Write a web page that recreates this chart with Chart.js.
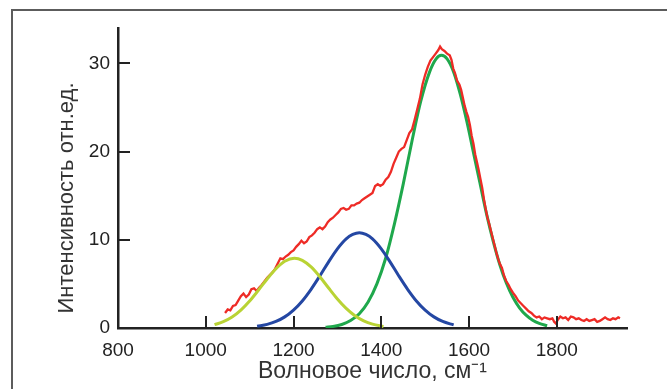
<!DOCTYPE html>
<html>
<head>
<meta charset="utf-8">
<script src="https://cdn.jsdelivr.net/npm/chart.js@4.4.1/dist/chart.umd.min.js"></script>
<style>
  html, body { margin: 0; padding: 0; background: #fff; }
  #wrap { position: relative; width: 667px; height: 389px; overflow: hidden; }
  #frame { position: absolute; left: 11px; top: 9px; width: 700px; height: 420px;
           border-left: 2px solid #5c5c5c; border-top: 2px solid #5c5c5c; }
  #c { position: absolute; left: 0; top: 0; }
</style>
</head>
<body>
<div id="wrap">
  <div id="frame"></div>
  <canvas id="c" width="667" height="389"></canvas>
</div>
<script>
// ---- data ----
const xTickLabels = [800, 1000, 1200, 1400, 1600, 1800];
const yTickLabels = [0, 10, 20, 30];
const xTitle = 'Волновое число, см\u207B\u00B9';
const yTitle = 'Интенсивность отн.ед.';

// measured spectrum (red)
const redX = [1044,1050,1056,1062,1068,1074,1080,1086,1092,1098,1104,1110,1116,1122,1128,1134,1140,1146,1152,1158,1164,1170,1176,1182,1188,1194,1200,1206,1212,1218,1224,1230,1236,1242,1248,1254,1260,1266,1272,1278,1284,1290,1296,1302,1308,1314,1320,1326,1332,1338,1344,1350,1356,1362,1368,1374,1380,1386,1392,1398,1404,1410,1416,1422,1428,1434,1440,1446,1452,1458,1464,1470,1476,1482,1488,1494,1500,1506,1512,1518,1524,1530,1534,1538,1544,1550,1556,1560,1564,1568,1573,1578,1582,1586,1590,1594,1598,1602,1606,1610,1614,1618,1622,1626,1630,1634,1638,1642,1646,1650,1654,1658,1662,1666,1670,1675,1680,1685,1690,1695,1700,1706,1712,1718,1724,1730,1736,1742,1748,1754,1760,1766,1772,1778,1784,1790,1794,1798,1802,1808,1814,1820,1826,1832,1838,1844,1850,1856,1862,1868,1874,1880,1886,1892,1898,1904,1910,1916,1922,1928,1934,1940,1944];
const redY = [1.7,2.1,2.0,2.5,2.6,3.1,3.6,3.9,3.5,3.8,4.4,4.5,4.2,4.6,4.9,5.3,5.7,6.0,6.3,6.7,7.3,7.9,7.8,8.1,8.3,8.6,8.8,9.2,9.5,9.9,9.6,9.8,10.3,10.5,10.8,11.2,11.4,11.2,11.5,12.0,12.3,12.5,12.8,13.1,13.5,13.6,13.4,13.5,13.9,13.9,14.1,14.2,14.5,14.7,14.9,15.1,15.3,16.1,16.3,16.1,16.3,16.8,17.1,17.7,18.6,19.3,20.0,20.3,20.5,21.3,22.1,22.5,23.6,24.8,26.0,27.6,28.7,29.6,30.3,30.7,31.1,31.5,31.9,31.6,31.4,31.1,30.9,30.4,29.4,28.9,28.0,27.6,27.0,26.1,25.2,24.5,23.9,23.0,21.8,20.9,19.7,18.8,17.9,16.9,15.9,14.6,13.5,12.5,11.8,11.0,10.2,9.4,8.6,7.9,7.3,6.8,5.9,5.3,4.9,4.4,4.0,3.6,3.1,2.8,2.5,2.2,1.9,1.7,1.4,1.2,1.3,1.0,1.2,1.1,1.0,1.1,0.7,0.5,0.9,1.3,1.1,1.2,0.9,1.3,1.2,1.0,1.1,0.9,0.8,1.0,0.8,0.9,1.0,0.7,0.8,1.0,1.2,1.0,0.9,1.1,1.0,1.2,1.1];

// fitted band ~1200 (yellow-green)
const yelX = [1020,1040,1060,1080,1100,1120,1140,1160,1180,1202,1220,1240,1260,1280,1300,1320,1340,1360,1380,1405];
const yelY = [0.38,0.72,1.25,2.03,3.06,4.28,5.56,6.72,7.56,7.9,7.67,6.92,5.81,4.53,3.29,2.22,1.39,0.81,0.44,0.18];

// fitted band ~1350 (blue)
const bluX = [1117,1140,1160,1180,1200,1220,1240,1260,1280,1300,1320,1335,1350,1365,1380,1400,1420,1440,1460,1480,1500,1520,1540,1565];
const bluY = [0.19,0.41,0.74,1.26,2.03,3.07,4.39,5.9,7.5,8.97,10.1,10.6,10.8,10.6,10.1,8.97,7.5,5.9,4.39,3.07,2.03,1.26,0.74,0.35];

// fitted band ~1540 (green)
const grnX = [1273,1290,1310,1330,1350,1370,1390,1410,1430,1450,1470,1490,1510,1525,1537,1550,1565,1580,1595,1610,1625,1640,1655,1670,1685,1700,1715,1730,1745,1760,1778];
const grnY = [0.09,0.18,0.40,0.84,1.62,2.95,5.0,7.9,11.8,16.3,21.2,25.7,29.0,30.5,30.9,30.5,29.0,26.5,23.4,19.9,16.4,12.9,9.85,7.2,5.1,3.48,2.29,1.45,0.88,0.52,0.26];

const pts = (xs, ys) => xs.map((x, i) => ({x: x, y: ys[i]}));

const axisColor = '#222';
const FONT = 'Liberation Sans, Arial, sans-serif';

const decorations = {
  id: 'decorations',
  afterDraw(chart) {
    const {ctx, scales: {x, y}, chartArea} = chart;
    ctx.save();
    ctx.strokeStyle = axisColor;
    ctx.lineWidth = 2;
    const yb = y.getPixelForValue(0);
    xTickLabels.slice(1).forEach(v => {
      const px = Math.round(x.getPixelForValue(v));
      ctx.beginPath(); ctx.moveTo(px, yb); ctx.lineTo(px, yb - 12); ctx.stroke();
    });
    const xl = x.getPixelForValue(800);
    yTickLabels.slice(1).forEach(v => {
      const py = Math.round(y.getPixelForValue(v));
      ctx.beginPath(); ctx.moveTo(xl, py); ctx.lineTo(xl + 12, py); ctx.stroke();
    });
    // y-axis title
    ctx.translate(chartArea.left - 51, chartArea.top + 170);
    ctx.rotate(-Math.PI / 2);
    ctx.fillStyle = '#333';
    ctx.font = '22px ' + FONT;
    ctx.textAlign = 'center';
    ctx.textBaseline = 'middle';
    ctx.fillText(yTitle, 0, 0);
    ctx.restore();
  }
};

const lineDs = (data, color, w, tension) => ({
  data: data, borderColor: color, borderWidth: w, pointRadius: 0,
  tension: tension, fill: false, cubicInterpolationMode: tension ? 'monotone' : 'default'
});

new Chart(document.getElementById('c'), {
  type: 'line',
  data: {
    datasets: [
      lineDs(pts(yelX, yelY), '#b9d334', 3, 0.4),
      lineDs(pts(bluX, bluY), '#2447a3', 3, 0.4),
      lineDs(pts(redX, redY), '#ee2b26', 2.3, 0),
      lineDs(pts(grnX, grnY), '#1fa84c', 3, 0.4)
    ]
  },
  options: {
    responsive: false,
    animation: false,
    layout: { padding: { left: 12, top: 28, right: 40, bottom: 0 } },
    plugins: { legend: { display: false }, tooltip: { enabled: false } },
    scales: {
      x: {
        type: 'linear', min: 800, max: 1960,
        afterFit: s => { s.height = 61; },
        afterBuildTicks: s => { s.ticks = xTickLabels.map(v => ({value: v})); },
        grid: { display: false },
        border: { display: true, color: axisColor, width: 2.5 },
        ticks: { padding: 3, color: '#222', callback: v => String(v),
                 font: { family: FONT, size: 19 } },
        title: { display: true, text: xTitle, color: '#333', padding: { top: 0, bottom: 4 },
                 font: { family: FONT, size: 23 } }
      },
      y: {
        type: 'linear', min: 0, max: 34,
        afterFit: s => { s.width = 106; },
        afterBuildTicks: s => { s.ticks = yTickLabels.map(v => ({value: v})); },
        grid: { display: false },
        border: { display: true, color: axisColor, width: 2.5 },
        ticks: { padding: 0, color: '#222', callback: v => String(v),
                 font: { family: FONT, size: 19 } },
        title: { display: false }
      }
    }
  },
  plugins: [decorations]
});
</script>
</body>
</html>
